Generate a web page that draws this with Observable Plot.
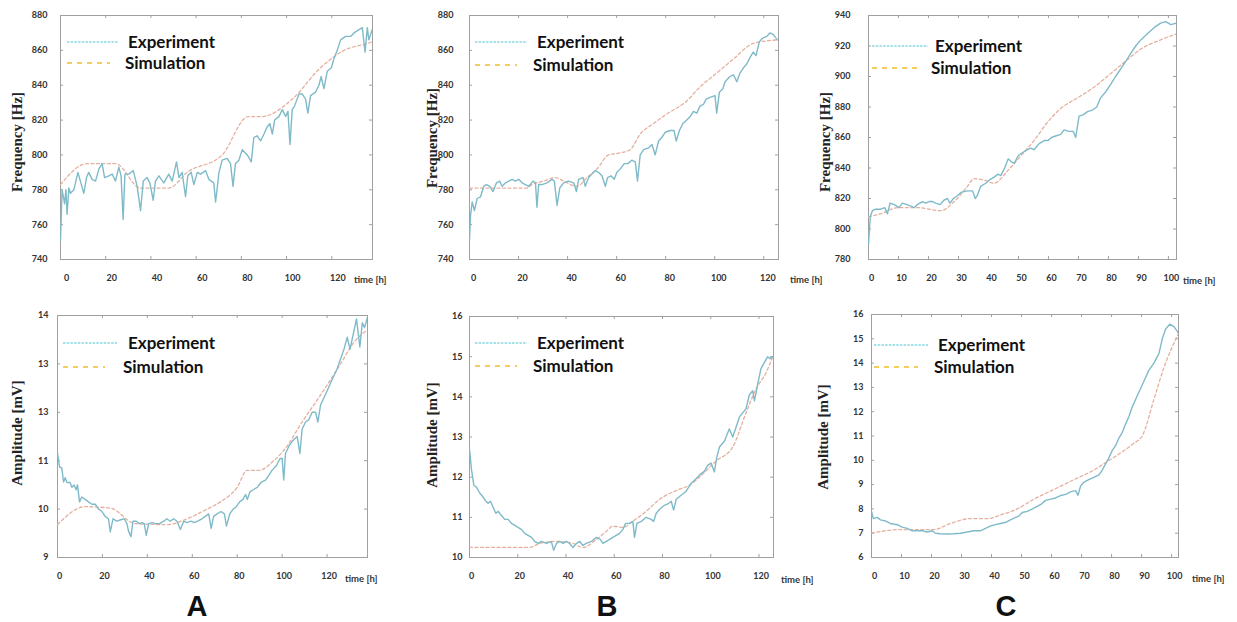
<!DOCTYPE html>
<html>
<head>
<meta charset="utf-8">
<script src="https://cdn.jsdelivr.net/npm/d3@7"></script>
<script src="https://cdn.jsdelivr.net/npm/@observablehq/plot@0.6"></script>
<style>
  html, body { margin: 0; padding: 0; background: #fff; }
  #root { position: relative; width: 1237px; height: 622px; overflow: hidden; background: #fff; }
  .abs { position: absolute; white-space: nowrap; }
  .ytitle { font-family: "Liberation Serif", serif; font-weight: 700; font-size: 15px; line-height: 16px; color: #222; transform: translate(-50%, -50%) rotate(-90deg); }
  .time { font-family: Lato, sans-serif; font-weight: 700; font-size: 9.5px; line-height: 11px; color: #333; transform: translateY(-50%); }
  .legtext { font-family: Lato, sans-serif; font-weight: 700; font-size: 17px; line-height: 20px; color: #111; transform: translateY(-50%); }
  .big { font-family: "Liberation Sans", Arial, sans-serif; font-weight: 700; font-size: 29px; line-height: 29px; color: #111; transform: translate(-50%, -50%); }
</style>
</head>
<body>
<div id="root"></div>
<script>
// ---------- tick values & labels ----------
const xTicks120 = [0, 20, 40, 60, 80, 100, 120];
const xTicks100 = [0, 10, 20, 30, 40, 50, 60, 70, 80, 90, 100];
const yTicksFreqAB = [740, 760, 780, 800, 820, 840, 860, 880];
const yTicksFreqC = [780, 800, 820, 840, 860, 880, 900, 920, 940];
const yTicksAmpA = [9, 10, 11, 12, 13, 14];
const yLabelsAmpA = ["9", "10", "11", "13", "13", "14"];
const yTicksAmpB = [10, 11, 12, 13, 14, 15, 16];
const yTicksAmpC = [6, 7, 8, 9, 10, 11, 12, 13, 14, 15, 16];
const panelLetters = ["A", "B", "C"];
const legendLabels = ["Experiment", "Simulation"];

// ---------- A: frequency ----------
const aFreqExp = [[0,751],[0.7,780],[1.8,772],[2.4,780],[2.9,766],[3.7,781],[4.4,778],[5.9,780],[7.7,790],[8.8,785],[10.3,778],[11.5,787],[12.5,790],[14.0,786],[15.5,785],[17.0,792],[18.4,795],[19.5,787],[21.4,788],[22.9,789],[24.3,785],[25.8,793],[26.8,788],[27.7,763],[28.5,789],[30.2,789],[32.2,791],[33.9,782],[35.4,768],[36.6,785],[38.3,787],[39.5,784],[41.0,774],[42.0,785],[43.5,788],[45.7,784],[47.9,789],[49.4,785],[51.3,796],[52.4,787],[53.8,790],[55.3,776],[56.3,788],[57.8,790],[59.0,783],[60.5,790],[61.9,789],[64.2,791],[65.6,786],[67.8,784],[68.6,773],[70.1,790],[71.5,797],[73.7,798],[75.2,795],[76.3,782],[77.4,795],[78.9,797],[80.4,803],[82.6,800],[84.4,796],[85.5,810],[87.0,811],[88.5,808],[90.0,812],[91.4,816],[92.6,818],[93.7,812],[94.7,820],[96.6,822],[98.1,826],[99.6,822],[100.6,825],[101.5,806],[102.5,826],[103.5,828],[105.5,835],[106.9,835],[108.4,832],[109.4,824],[110.6,834],[112.8,836],[114.3,840],[115.3,845],[116.5,838],[118.0,848],[119.8,850],[120.9,855],[122.4,860],[123.9,866],[126.1,868],[128.3,868],[129.8,870],[133.5,873],[134.7,859],[135.7,873],[136.4,866],[137.9,872]];
const aFreqSim = [[0,783],[11.8,795],[24.3,795],[35.4,781],[48,781],[56,790],[71.5,800],[83,822],[89,822],[102.5,832],[115,850],[125.4,860],[135.7,864],[138,865]];

// ---------- A: amplitude ----------
const aAmpExp = [[0,11.15],[0.9,10.87],[1.9,10.85],[2.7,10.56],[3.4,10.65],[4.2,10.55],[5.6,10.55],[6.4,10.45],[7.4,10.5],[8.3,10.4],[8.9,10.5],[9.8,10.15],[10.8,10.25],[12.3,10.2],[13.8,10.15],[15.3,10.1],[16.8,10.1],[18.3,10.0],[19.8,9.95],[21.2,9.85],[22.7,9.8],[23.5,9.53],[24.7,9.8],[26.4,9.75],[28.2,9.78],[29.7,9.8],[30.9,9.7],[31.6,9.55],[32.7,9.43],[33.6,9.75],[35.1,9.75],[36.6,9.7],[37.6,9.72],[38.6,9.7],[39.5,9.46],[40.6,9.7],[42.1,9.72],[43.5,9.7],[45.5,9.7],[47.3,9.75],[48.7,9.8],[50.2,9.75],[51.7,9.8],[53.2,9.75],[54.7,9.58],[56.2,9.75],[57.7,9.72],[59.4,9.75],[60.9,9.72],[62.4,9.75],[64.3,9.8],[65.8,9.85],[67.3,9.9],[68.4,9.6],[69.5,9.85],[71.0,9.9],[72.8,9.95],[74.3,9.9],[75.2,9.65],[76.7,9.9],[78.2,10.0],[79.6,10.05],[81.1,10.15],[82.6,10.2],[83.7,10.3],[84.5,10.2],[85.6,10.35],[87.1,10.4],[88.9,10.45],[90.6,10.55],[92.6,10.6],[94.1,10.7],[95.5,10.8],[97.5,10.9],[99.0,11.04],[100.0,11.05],[100.7,10.6],[101.5,11.15],[103.0,11.3],[104.5,11.4],[105.5,11.45],[106.7,11.5],[107.9,11.15],[108.9,11.65],[110.4,11.8],[111.9,11.85],[113.4,12.0],[114.9,12.0],[115.9,11.8],[117.1,12.15],[118.6,12.3],[120.1,12.45],[121.5,12.6],[123.0,12.75],[124.5,12.9],[126.0,13.1],[127.5,13.3],[129.0,13.55],[130.2,13.3],[131.6,13.6],[133.1,13.93],[134.6,13.35],[135.7,13.85],[136.7,13.75],[137.9,13.95]];
const aAmpSim = [[0,9.68],[12.3,10.05],[23.5,10.02],[34.6,9.7],[48.7,9.68],[57.7,9.8],[66.6,10.0],[72.5,10.15],[80,10.45],[84.4,10.8],[89.6,10.8],[96.3,11.0],[102.2,11.3],[108.2,11.75],[117,12.35],[126,13.0],[132,13.45],[137.9,13.7]];

// ---------- B: frequency ----------
const bFreqExp = [[0,751],[0.4,765],[1.1,773],[2.0,768],[3.1,775],[4.5,776],[5.8,782],[6.9,783],[8.3,782],[9.6,779],[11.0,784],[12.3,785],[13.3,782],[14.7,784],[16.0,785],[17.4,786],[18.7,785],[20.1,786],[21.4,784],[22.8,783],[24.2,782],[25.9,785],[26.9,784],[27.5,770],[28.2,783],[29.6,783],[31.6,784],[33.7,786],[34.6,785],[35.7,771],[36.8,781],[38.4,784],[40.4,785],[42.5,784],[43.6,779],[44.5,786],[46.3,787],[47.2,782],[48.6,787],[49.9,789],[51.3,791],[52.6,790],[54.0,788],[55.4,782],[56.3,787],[57.7,788],[59.0,786],[60.1,790],[61.5,792],[63.1,795],[64.6,795],[66.2,797],[67.6,796],[68.5,785],[69.6,800],[71.0,803],[73.0,804],[74.4,806],[75.7,800],[77.1,808],[78.4,810],[79.8,813],[81.8,814],[83.4,814],[84.3,808],[85.6,814],[87.0,818],[88.6,820],[90.0,822],[91.3,825],[92.7,824],[94.0,828],[95.4,829],[96.5,832],[98.1,833],[100.1,834],[100.8,824],[101.9,836],[103.3,838],[104.2,842],[106.2,845],[107.6,846],[109.0,842],[110.3,847],[111.7,850],[113.0,852],[114.4,856],[115.7,859],[116.8,857],[118.2,865],[119.5,867],[121.2,868],[122.5,870],[123.9,869],[125.6,866]];
const bFreqSim = [[0,781],[23.5,781],[25.5,783],[30.3,785],[35,787],[38.4,785],[43.8,782],[47.9,787],[52,792],[56.7,800],[60.8,801],[65.5,803],[69.6,812],[75,818],[80.5,823.5],[88.6,831],[94,839],[100.8,847],[107.6,855],[115.7,864],[125.6,866]];

// ---------- B: amplitude ----------
const bAmpExp = [[0,12.7],[0.8,12.2],[1.8,11.8],[2.9,11.75],[4.3,11.6],[5.7,11.5],[6.8,11.4],[7.7,11.35],[8.7,11.4],[9.8,11.25],[10.9,11.1],[11.9,11.15],[13.2,11.05],[14.6,10.95],[16.0,10.95],[17.4,10.85],[18.8,10.8],[20.1,10.75],[21.5,10.7],[22.9,10.6],[24.3,10.55],[25.7,10.5],[27.0,10.4],[28.4,10.35],[29.8,10.4],[31.9,10.35],[33.9,10.4],[34.9,10.18],[36.0,10.35],[37.4,10.4],[38.8,10.35],[40.1,10.4],[41.5,10.35],[42.9,10.25],[44.3,10.35],[45.7,10.4],[47.0,10.3],[48.4,10.35],[50.5,10.4],[52.6,10.5],[54.2,10.45],[55.3,10.35],[56.7,10.4],[58.1,10.45],[59.4,10.5],[60.8,10.55],[62.2,10.6],[63.6,10.7],[64.7,10.85],[66.3,10.85],[67.7,10.9],[68.4,10.5],[69.4,10.85],[71.2,10.9],[73.2,11.0],[75.3,10.95],[76.3,10.9],[77.4,11.1],[78.8,11.2],[80.8,11.3],[82.6,11.35],[83.6,11.4],[84.6,11.18],[85.7,11.45],[87.7,11.55],[89.8,11.65],[91.9,11.85],[93.7,11.95],[95.3,12.05],[97.4,12.15],[98.8,12.3],[100.1,12.35],[101.5,12.13],[102.5,12.5],[103.6,12.75],[105.7,12.9],[107.0,13.1],[107.7,13.2],[109.1,13.0],[110.5,13.25],[111.9,13.5],[113.2,13.6],[114.6,13.7],[116.0,14.05],[117.4,14.15],[118.1,13.9],[119.4,14.3],[120.8,14.7],[122.2,14.85],[123.6,15.0],[124.6,14.95],[125.7,15.0]];
const bAmpSim = [[0,10.25],[25,10.25],[29.1,10.35],[36,10.4],[42.9,10.35],[47,10.25],[52.6,10.45],[56.7,10.65],[59.4,10.78],[63.6,10.75],[67.7,10.9],[73.2,11.15],[78.8,11.45],[87,11.7],[91.2,11.8],[95.3,12.0],[102.2,12.4],[109.1,12.75],[114.6,13.6],[118.8,14.2],[122.9,14.6],[125.7,15.0]];

// ---------- C: frequency ----------
const cFreqExp = [[0,790],[0.6,808],[1.3,812],[2.4,813],[4.1,813],[5.4,814],[6.3,810],[7.2,817],[8.6,816],[10.2,814],[11.3,817],[12.8,816],[14.1,815],[15.2,814],[16.3,816],[18,818],[19.1,817],[20.2,818],[21.3,818],[22.4,817],[23.9,816],[25.2,819],[26.3,820],[27.2,817],[28.3,820],[29.7,822],[30.8,824],[33,825],[34.7,825],[35.6,820],[36.3,822],[37.4,828],[39.1,830],[40.2,832],[41.9,834],[43.2,836],[44.1,835],[45.4,840],[46.6,846],[47.7,844],[48.6,843],[49.9,848],[51.3,850],[53,852],[54.1,853],[55.2,852],[56.9,856],[58.6,858],[59.9,858],[61,860],[62.4,861],[64.1,862],[65.2,865],[66.9,864],[68.3,864],[69.1,860],[70.2,874],[71.7,875],[73,877],[74.7,878],[76.1,880],[77.4,886],[79.1,890],[80.8,895],[82.4,900],[84.1,905],[85.8,910],[87.4,915],[89.1,920],[90.8,924],[93,928],[95.2,932],[97.4,935],[99.1,936],[100.8,934],[102.8,935]];
const cFreqSim = [[0,808],[4.1,810],[9.7,814],[16.3,814],[24.1,812],[28.6,818],[33,828],[35.2,833],[38.6,832],[41.9,830],[46.3,838],[50.8,848],[55.2,858],[59.7,870],[64.1,879],[69.7,886],[75.2,893],[80.8,902],[86.3,911],[90.8,918],[97.4,924],[102.8,928]];

// ---------- C: amplitude ----------
const cAmpExp = [[0,7.9],[0.6,7.6],[1.9,7.65],[3,7.55],[4.7,7.5],[6.3,7.4],[8.6,7.35],[10.2,7.25],[11.9,7.2],[13.6,7.1],[15.2,7.1],[16.9,7.1],[18.6,7.05],[20.2,7.1],[21.3,7.0],[23,6.98],[25.2,6.97],[27.4,6.98],[29.7,7.0],[31.9,7.05],[34.1,7.1],[36.3,7.1],[38,7.2],[39.7,7.3],[41.3,7.35],[43,7.4],[44.7,7.45],[46.3,7.55],[48,7.65],[49.1,7.7],[50.2,7.85],[51.9,7.9],[53.6,8.0],[55.2,8.1],[56.6,8.2],[58,8.35],[59.7,8.4],[61.3,8.45],[63,8.55],[64.7,8.6],[66.3,8.7],[68,8.75],[68.8,8.56],[69.7,8.95],[70.8,9.1],[72.4,9.2],[74.1,9.3],[75.8,9.4],[76.9,9.6],[78,9.85],[79.1,10.1],[80.2,10.4],[81.3,10.6],[82.4,10.9],[83.6,11.15],[84.7,11.5],[85.8,11.8],[86.9,12.2],[88,12.5],[89.1,12.8],[90.2,13.1],[91.3,13.4],[92.4,13.7],[94.1,14.0],[95.8,14.4],[96.9,15.0],[98,15.4],[99.4,15.6],[100.8,15.5],[102.2,15.25]];
const cAmpSim = [[0,7.0],[9.7,7.15],[20.8,7.15],[26.3,7.4],[33,7.6],[38.6,7.6],[43,7.75],[48.6,8.0],[54.1,8.4],[60.8,8.8],[67.4,9.2],[74.1,9.6],[78.6,9.95],[83,10.3],[87.4,10.7],[90.2,11.0],[94.1,12.5],[97.4,13.8],[102.2,15.2]];

// ---------- layout (positions/styles only) ----------
const panels = [
  {exp: aFreqExp, sim: aFreqSim, xDomain: [0, 138], yDomain: [740, 880], xTicks: xTicks120, yTicks: yTicksFreqAB,
   l: 60, t: 15, r: 372, b: 259, xdx: 6, ypad: 13, ytitle: "Frequency [Hz]", ytx: 17, yty: 142, timeX: 354, timeY: 279,
   leg: {x1: 67, xe: 118, xs: 110, ye: 42, ys: 63, te: 128, ts: 125}},
  {exp: bFreqExp, sim: bFreqSim, xDomain: [0, 126], yDomain: [740, 880], xTicks: xTicks120, yTicks: yTicksFreqAB,
   l: 469, t: 15, r: 778, b: 259, xdx: 4, ypad: 16, ytitle: "Frequency [Hz]", ytx: 432, yty: 138, timeX: 790, timeY: 279,
   leg: {x1: 475, xe: 527, xs: 517, ye: 42, ys: 65, te: 537, ts: 533}},
  {exp: cFreqExp, sim: cFreqSim, xDomain: [0, 102.7], yDomain: [780, 940], xTicks: xTicks100, yTicks: yTicksFreqC,
   l: 868, t: 15, r: 1176, b: 259, xdx: 3, ypad: 18, ytitle: "Frequency [Hz]", ytx: 825, yty: 142, timeX: 1183, timeY: 280,
   leg: {x1: 872, xe: 928, xs: 918, ye: 46, ys: 68, te: 935, ts: 931}},
  {exp: aAmpExp, sim: aAmpSim, xDomain: [0, 138], yDomain: [9, 14], xTicks: xTicks120, yTicks: yTicksAmpA, yLabels: yLabelsAmpA,
   l: 57, t: 315, r: 367, b: 557, xdx: 2, ypad: 9, ytitle: "Amplitude [mV]", ytx: 17, yty: 433, timeX: 345, timeY: 578,
   leg: {x1: 63, xe: 117, xs: 105, ye: 343, ys: 367, te: 128, ts: 123}, letter: panelLetters[0], lx: 197, ly: 606},
  {exp: bAmpExp, sim: bAmpSim, xDomain: [0, 126], yDomain: [10, 16], xTicks: xTicks120, yTicks: yTicksAmpB,
   l: 469, t: 316, r: 773, b: 557, xdx: 2, ypad: 7, ytitle: "Amplitude [mV]", ytx: 432, yty: 435, timeX: 781, timeY: 579,
   leg: {x1: 475, xe: 527, xs: 517, ye: 343, ys: 366, te: 537, ts: 533}, letter: panelLetters[1], lx: 607, ly: 606},
  {exp: cAmpExp, sim: cAmpSim, xDomain: [0, 102.3], yDomain: [6, 16], xTicks: xTicks100, yTicks: yTicksAmpC,
   l: 871, t: 314, r: 1178, b: 557, xdx: 3, ypad: 8, ytitle: "Amplitude [mV]", ytx: 823, yty: 437, timeX: 1192, timeY: 578,
   leg: {x1: 874, xe: 928, xs: 918, ye: 345, ys: 367, te: 938, ts: 934}, letter: panelLetters[2], lx: 1006, ly: 606}
];

const root = document.getElementById("root");
const frameColor = "#a0a0a0";
const expColor = "#7fbac9";
const simColor = "#e6b09e";
const ns = "http://www.w3.org/2000/svg";

function addDiv(cls, text, x, y) {
  const d = document.createElement("div");
  d.className = "abs " + cls;
  d.textContent = text;
  d.style.left = x + "px";
  d.style.top = y + "px";
  root.appendChild(d);
  return d;
}

// charts
for (const p of panels) {
  const W = p.r - p.l, H = p.b - p.t;
  const mL = 50, mR = 6, mT = 4, mB = 32;
  const fmt = p.yLabels ? (d => p.yLabels[p.yTicks.indexOf(d)]) : (d => String(d));
  const chart = Plot.plot({
    width: W + mL + mR, height: H + mT + mB,
    marginLeft: mL, marginRight: mR, marginTop: mT, marginBottom: mB,
    x: {domain: p.xDomain},
    y: {domain: p.yDomain},
    style: {background: "transparent", fontFamily: "Lato, sans-serif", fontWeight: 700, fontSize: "9px", color: "#333", overflow: "visible"},
    marks: [
      Plot.frame({stroke: frameColor, strokeWidth: 1}),
      Plot.tickX(p.xTicks, {x: d => d, stroke: frameColor, insetTop: H - 3}),
      Plot.tickX(p.xTicks, {x: d => d, stroke: frameColor, insetBottom: H - 3}),
      Plot.tickY(p.yTicks, {y: d => d, stroke: frameColor, insetRight: W - 3}),
      Plot.tickY(p.yTicks, {y: d => d, stroke: frameColor, insetLeft: W - 3}),
      Plot.axisX(p.xTicks, {tickSize: 0, tickPadding: 15, dx: p.xdx, label: null, fill: "#333"}),
      Plot.axisY(p.yTicks, {tickSize: 0, tickPadding: p.ypad, label: null, tickFormat: fmt, fill: "#333"}),
      Plot.line(p.sim, {x: d => d[0], y: d => d[1], stroke: simColor, strokeWidth: 1.3, strokeDasharray: "3,2.5", curve: "monotone-x", clip: true}),
      Plot.line(p.exp, {x: d => d[0], y: d => d[1], stroke: expColor, strokeWidth: 1.4, clip: true})
    ]
  });
  chart.style.position = "absolute";
  chart.style.left = (p.l - mL) + "px";
  chart.style.top = (p.t - mT) + "px";
  chart.style.overflow = "visible";
  root.appendChild(chart);
}

// legend line samples (one overlay)
const lsvg = document.createElementNS(ns, "svg");
lsvg.setAttribute("width", 1237); lsvg.setAttribute("height", 622);
lsvg.style.position = "absolute"; lsvg.style.left = "0px"; lsvg.style.top = "0px"; lsvg.style.pointerEvents = "none";
for (const p of panels) {
  const L = p.leg;
  const l1 = document.createElementNS(ns, "line");
  l1.setAttribute("x1", L.x1); l1.setAttribute("x2", L.xe); l1.setAttribute("y1", L.ye); l1.setAttribute("y2", L.ye);
  l1.setAttribute("stroke", "#4fc3d6"); l1.setAttribute("stroke-width", 1.1); l1.setAttribute("stroke-dasharray", "2.5,1.2");
  const l2 = document.createElementNS(ns, "line");
  l2.setAttribute("x1", L.x1); l2.setAttribute("x2", L.xs); l2.setAttribute("y1", L.ys); l2.setAttribute("y2", L.ys);
  l2.setAttribute("stroke", "#f2bd2a"); l2.setAttribute("stroke-width", 1.5); l2.setAttribute("stroke-dasharray", "5,5");
  lsvg.appendChild(l1); lsvg.appendChild(l2);
}
root.appendChild(lsvg);

// texts
for (const p of panels) {
  const L = p.leg;
  addDiv("ytitle", p.ytitle, p.ytx, p.yty);
  addDiv("time", "time [h]", p.timeX, p.timeY);
  addDiv("legtext", legendLabels[0], L.te, L.ye);
  addDiv("legtext", legendLabels[1], L.ts, L.ys);
  if (p.letter) addDiv("big", p.letter, p.lx, p.ly);
}
</script>
</body>
</html>
